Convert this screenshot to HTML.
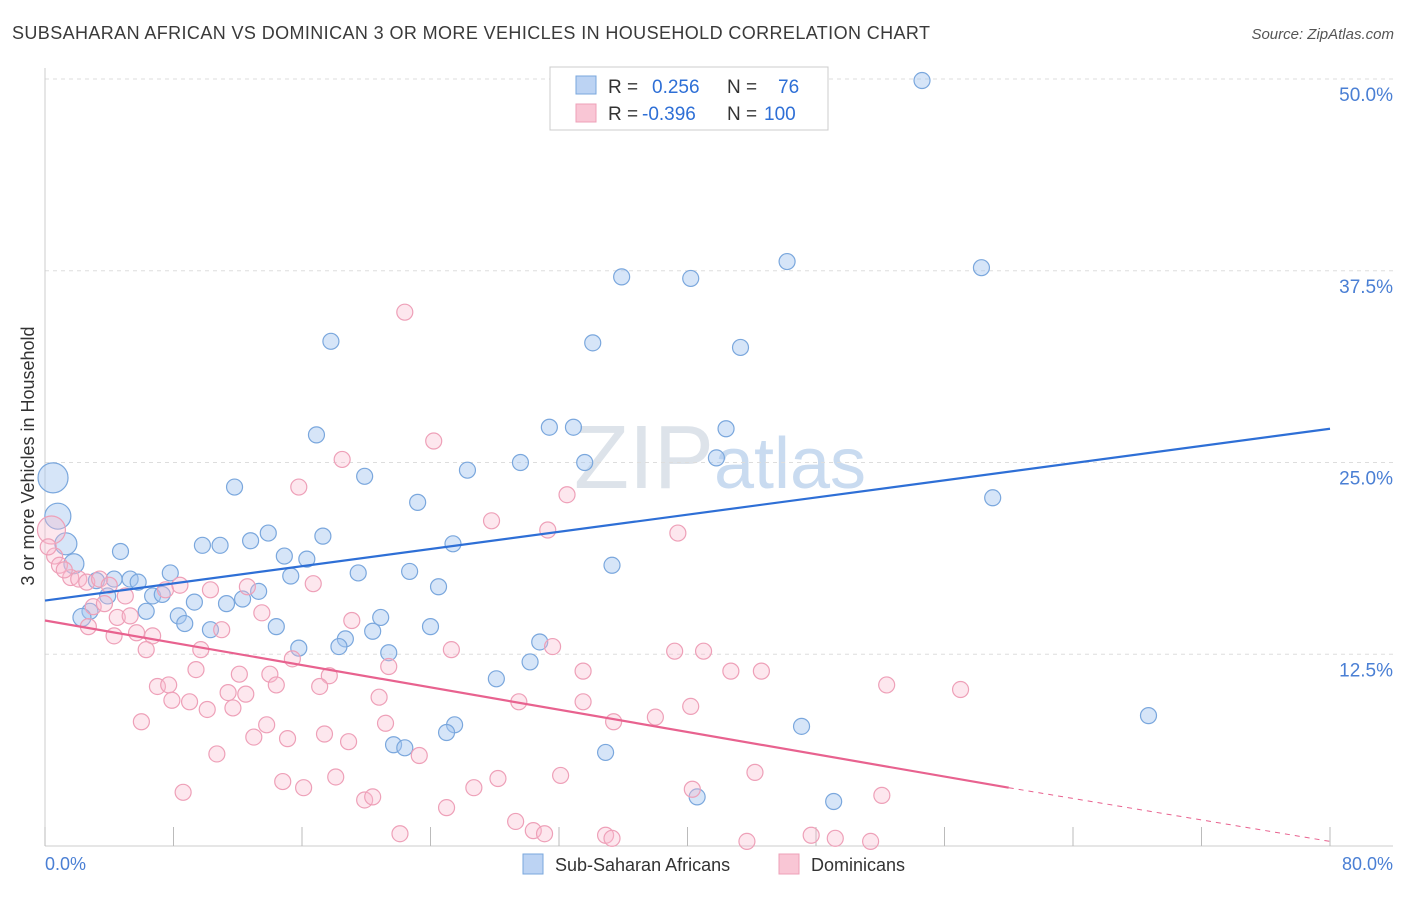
<!DOCTYPE html>
<html><head><meta charset="utf-8"><style>
body{margin:0;background:#fff;font-family:"Liberation Sans",sans-serif;}
svg text{font-family:"Liberation Sans",sans-serif;}
</style></head><body>
<svg id="c" width="1406" height="892">
<text x="12" y="39" font-size="18" fill="#3a3a3a" textLength="918" lengthAdjust="spacing">SUBSAHARAN AFRICAN VS DOMINICAN 3 OR MORE VEHICLES IN HOUSEHOLD CORRELATION CHART</text>
<text x="1394" y="39" font-size="15" fill="#555" font-style="italic" text-anchor="end">Source: ZipAtlas.com</text>
<text x="720" y="488" font-size="90" fill="#dde3ea" text-anchor="middle" font-family="Liberation Serif">ZIP<tspan fill="#c9dbf0" font-family="Liberation Sans" font-size="72">atlas</tspan></text>
<g id="grid"></g><g id="pts"></g><g id="lines"></g>
<text transform="translate(34,456) rotate(-90)" font-size="18" fill="#333" text-anchor="middle">3 or more Vehicles in Household</text>
<text x="45" y="870" font-size="18" fill="#4a7fd4">0.0%</text>
<text x="1393" y="870" font-size="18" fill="#4a7fd4" text-anchor="end">80.0%</text>
<g>
<rect x="550" y="67" width="278" height="63" fill="#fff" stroke="#ccc"/>
<rect x="576" y="76" width="20" height="18" fill="#bcd3f3" stroke="#7aa7dd"/>
<rect x="576" y="104" width="20" height="18" fill="#f9c6d5" stroke="#eea0b8"/>
<text x="608" y="93" font-size="19" fill="#333">R = <tspan fill="#2e6fd6" x="652">0.256</tspan><tspan x="727">N =</tspan><tspan fill="#2e6fd6" x="778">76</tspan></text>
<text x="608" y="120" font-size="19" fill="#333">R = <tspan fill="#2e6fd6" x="642">-0.396</tspan><tspan x="727">N =</tspan><tspan fill="#2e6fd6" x="764">100</tspan></text>
</g>
<g>
<rect x="523" y="854" width="20" height="20" fill="#bcd3f3" stroke="#7aa7dd"/>
<text x="555" y="871" font-size="18" fill="#333">Sub-Saharan Africans</text>
<rect x="779" y="854" width="20" height="20" fill="#f9c6d5" stroke="#eea0b8"/>
<text x="811" y="871" font-size="18" fill="#333">Dominicans</text>
</g>
</svg>
<script>
const xTicks=[0,8,16,24,32,40,48,56,64,72,80];
const yTicks=[12.5,25,37.5,50];
const yTickLabels=["12.5%","25.0%","37.5%","50.0%"];
const blueX=[54.6,46.2,58.3,35.9,40.2,17.8,34.1,43.3,16.9,31.4,32.9,42.4,26.3,29.6,33.6,41.8,19.9,11.8,59.0,23.2,0.5,0.8,1.3,13.9,12.8,9.8,10.9,17.3,4.7,25.4,14.9,16.3,35.3,1.8,3.2,4.3,5.3,5.8,7.8,15.3,19.5,22.7,24.5,6.7,7.3,9.3,12.3,13.3,11.3,3.9,2.8,2.3,6.3,8.3,8.7,10.3,14.4,20.9,20.4,18.7,18.3,15.8,21.4,24.0,30.8,30.2,28.1,25.5,25.0,21.7,22.4,34.9,47.1,68.7,40.6,49.1];
const blueY=[49.9,38.1,37.7,37.1,37.0,32.9,32.8,32.5,26.8,27.3,27.3,27.2,24.5,25.0,25.0,25.3,24.1,23.4,22.7,22.4,24.0,21.5,19.7,20.4,19.9,19.6,19.6,20.2,19.2,19.7,18.9,18.7,18.3,18.4,17.3,17.4,17.4,17.2,17.8,17.6,17.8,17.9,16.9,16.3,16.4,15.9,16.1,16.6,15.8,16.3,15.3,14.9,15.3,15.0,14.5,14.1,14.3,14.9,14.0,13.5,13.0,12.9,12.6,14.3,13.3,12.0,10.9,7.9,7.4,6.6,6.4,6.1,7.8,8.5,3.2,2.9];
const blueR=[8,8,8,8,8,8,8,8,8,8,8,8,8,8,8,8,8,8,8,8,15,13,11,8,8,8,8,8,8,8,8,8,8,10,8,8,8,8,8,8,8,8,8,8,8,8,8,8,8,8,8,9,8,8,8,8,8,8,8,8,8,8,8,8,8,8,8,8,8,8,8,8,8,8,8,8];
const pinkX=[22.4,24.2,18.5,15.8,32.5,27.8,31.3,39.4,0.4,0.6,0.9,1.6,2.1,2.6,3.4,4.0,5.0,7.5,8.4,10.3,12.6,16.7,3.0,3.7,4.5,5.3,13.5,19.1,2.7,4.3,5.7,6.7,11.0,6.3,9.7,15.4,25.3,31.6,39.2,41.0,9.4,12.1,14.0,17.7,21.4,33.5,42.7,44.6,7.0,7.7,14.4,17.1,52.4,57.0,7.9,9.0,11.4,12.5,20.8,29.5,33.5,40.2,10.1,11.7,6.0,13.8,21.2,35.4,38.0,17.4,13.0,15.1,18.9,10.7,23.3,44.2,14.8,18.1,28.2,32.1,26.7,40.3,8.6,16.1,19.9,20.4,52.1,25.0,29.3,22.1,30.4,31.1,34.9,35.3,43.7,47.7,49.2,51.4,0.2,1.2];
const pinkY=[34.8,26.4,25.2,23.4,22.9,21.2,20.6,20.4,20.6,18.9,18.3,17.5,17.4,17.2,17.4,17.0,16.3,16.7,17.0,16.7,16.9,17.1,15.6,15.8,14.9,15.0,15.2,14.7,14.3,13.7,13.9,13.7,14.1,12.8,12.8,12.2,12.8,13.0,12.7,12.7,11.5,11.2,11.2,11.1,11.7,11.4,11.4,11.4,10.4,10.5,10.5,10.4,10.5,10.2,9.5,9.4,10.0,9.9,9.7,9.4,9.4,9.1,8.9,9.0,8.1,7.9,8.0,8.1,8.4,7.3,7.1,7.0,6.8,6.0,5.9,4.8,4.2,4.5,4.4,4.6,3.8,3.7,3.5,3.8,3.0,3.2,3.3,2.5,1.6,0.8,1.0,0.8,0.7,0.5,0.3,0.7,0.5,0.3,19.5,18.0];
const blueLine=[16.0,27.2];
const pinkLine=[14.7,3.8,0.3];
const pinkSolidEnd=60;
const X=v=>45+v*(1330-45)/80;
const Y=v=>846-v*(846-79)/50;
const NS="http://www.w3.org/2000/svg";
function mk(t,a,p){const e=document.createElementNS(NS,t);for(const k in a)e.setAttribute(k,a[k]);p.appendChild(e);return e;}
const grid=document.getElementById('grid'),pts=document.getElementById('pts'),lines=document.getElementById('lines'),svg=document.getElementById('c');
yTicks.forEach((t,i)=>{const l=mk('line',{x1:45,x2:1393,y1:Y(t),y2:Y(t),stroke:'#ddd','stroke-dasharray':'4,4'},grid);


const tx=mk('text',{x:1393,y:Y(t)+22,'font-size':19,fill:'#4a7fd4','text-anchor':'end'},svg);tx.textContent=yTickLabels[i];

});
const ax=mk('line',{x1:45,x2:1393,y1:846,y2:846,stroke:'#ccc'},grid);


const ay=mk('line',{x1:45,x2:45,y1:68,y2:846,stroke:'#ccc'},grid);


xTicks.forEach(t=>{const l=mk('line',{x1:X(t),x2:X(t),y1:827,y2:846,stroke:'#bbb'},grid);

});
blueX.forEach((v,i)=>{const c=mk('circle',{cx:X(v),cy:Y(blueY[i]),r:blueR[i],fill:'rgba(165,198,240,0.45)',stroke:'#7aa7dd','stroke-width':1.2},pts);

});
pinkX.forEach((v,i)=>{const c=mk('circle',{cx:X(v),cy:Y(pinkY[i]),r:(i==8?14:8),fill:'rgba(248,185,205,0.35)',stroke:'#eea0b8','stroke-width':1.2},pts);

});
const bl=mk('line',{x1:X(0),y1:Y(blueLine[0]),x2:X(80),y2:Y(blueLine[1]),stroke:'#2e6fd6','stroke-width':2.2},lines);


const pl=mk('line',{x1:X(0),y1:Y(pinkLine[0]),x2:X(pinkSolidEnd),y2:Y(pinkLine[1]),stroke:'#e8628f','stroke-width':2.2},lines);


const pd=mk('line',{x1:X(pinkSolidEnd),y1:Y(pinkLine[1]),x2:X(80),y2:Y(pinkLine[2]),stroke:'#e8628f','stroke-width':1,'stroke-dasharray':'5,5'},lines);


</script>
</body></html>
